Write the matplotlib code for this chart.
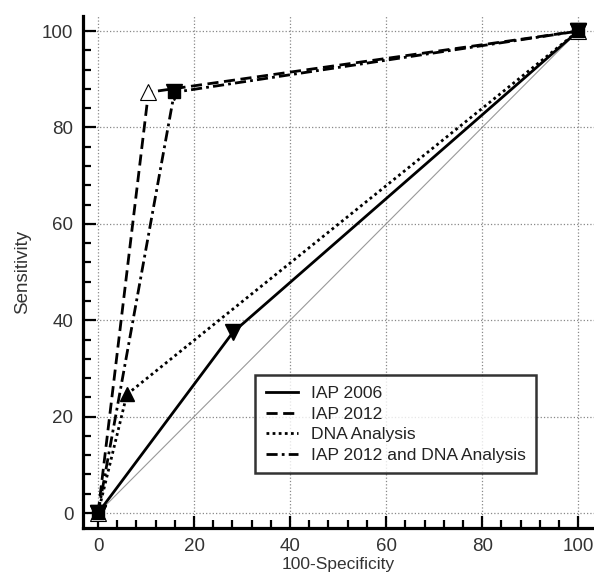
import matplotlib.pyplot as plt
from matplotlib.ticker import MultipleLocator

plt.rcParams["font.family"] = ["Liberation Sans", "DejaVu Sans"]

# ROC points (100-Specificity, Sensitivity)
iap2006_x = [0, 28.1, 100]
iap2006_y = [0, 37.5, 100]
iap2012_x = [0, 10.5, 100]
iap2012_y = [0, 87.3, 100]
dna_x = [0, 6.0, 100]
dna_y = [0, 24.6, 100]
combo_x = [0, 15.9, 100]
combo_y = [0, 87.3, 100]
ticks = [0, 20, 40, 60, 80, 100]

styles = {
    "IAP 2006": "-",
    "IAP 2012": (0, (4, 2)),
    "DNA Analysis": (0, (1, 1.2)),
    "IAP 2012 and DNA Analysis": (0, (4, 1.5, 1, 1.5)),
}

fig = plt.figure(figsize=(5.94, 5.77), dpi=100)
ax = fig.add_axes([0.14, 0.085, 0.86, 0.887])

ax.plot([0, 100], [0, 100], color="#999999", lw=0.8, zorder=1)

ax.plot(iap2006_x, iap2006_y, color="black", lw=2, ls=styles["IAP 2006"],
        marker="v", ms=11, zorder=3)
ax.plot(iap2012_x, iap2012_y, color="black", lw=2, ls=styles["IAP 2012"], zorder=3)
ax.plot(iap2012_x, iap2012_y, ls="none", marker="^", ms=11, mfc="white",
        mec="black", mew=0.8, zorder=4)
ax.plot(dna_x, dna_y, color="black", lw=2, ls=styles["DNA Analysis"],
        marker="^", ms=10.5, zorder=3)
ax.plot(combo_x, combo_y, color="black", lw=2, ls=styles["IAP 2012 and DNA Analysis"],
        marker="v", ms=11, zorder=3)
ax.plot([0, 100, 15.9], [0, 100, 87.3], ls="none", marker="s", ms=8,
        color="black", zorder=5)

ax.set_xlim(-3.1, 103.3)
ax.set_ylim(-3.1, 103.1)
ax.set_xticks(ticks)
ax.set_yticks(ticks)
ax.xaxis.set_minor_locator(MultipleLocator(4))
ax.yaxis.set_minor_locator(MultipleLocator(4))
ax.tick_params(which="major", direction="in", length=9, width=1.6, labelsize=13.5,
               pad=7, colors="black")
ax.tick_params(which="minor", direction="in", length=5.5, width=1.6)
for lab in ax.get_xticklabels() + ax.get_yticklabels():
    lab.set_color("#333333")

ax.grid(True, which="major", color="#888888", ls=":", lw=0.9)
for s in ["top", "right"]:
    ax.spines[s].set_visible(False)
for s in ["left", "bottom"]:
    ax.spines[s].set_linewidth(2.3)

ax.set_xlabel("100-Specificity", fontsize=12.5, color="#333333", labelpad=2)
ax.set_ylabel("Sensitivity", fontsize=13.5, color="#333333", labelpad=8)

handles = [plt.Line2D([], [], color="black", lw=2, ls=ls) for ls in styles.values()]
leg = ax.legend(handles, list(styles.keys()), loc="lower left",
                bbox_to_anchor=(0.32, 0.09), fontsize=12.6, frameon=True,
                fancybox=False, handlelength=1.85, handletextpad=0.7,
                borderpad=0.6, labelspacing=0.3, edgecolor="black")
leg.get_frame().set_linewidth(1.8)
for t in leg.get_texts():
    t.set_color("#222222")

fig.savefig("out.png", dpi=100)
